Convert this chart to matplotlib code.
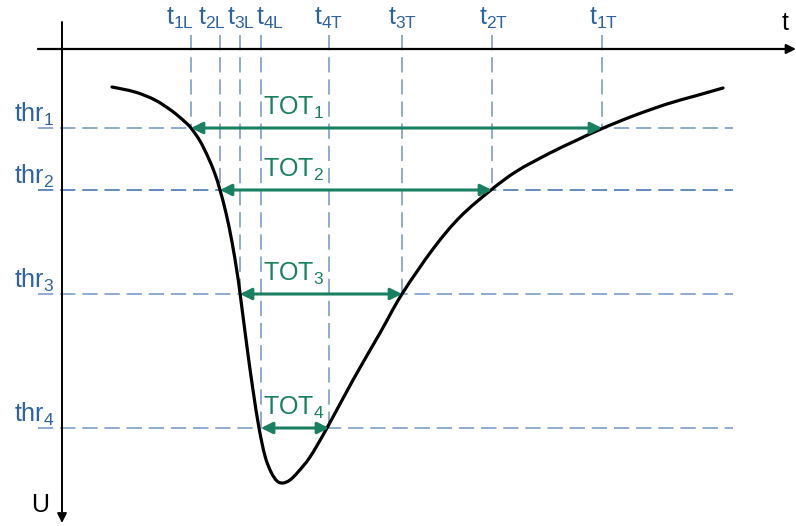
import matplotlib
matplotlib.use("Agg")
import matplotlib.pyplot as plt
import numpy as np
from matplotlib.path import Path
from matplotlib.patches import PathPatch

plt.rcParams['font.family'] = ['Liberation Sans', 'DejaVu Sans']
plt.rcParams['mathtext.fontset'] = 'custom'
plt.rcParams['mathtext.rm'] = 'Liberation Sans'
plt.rcParams['mathtext.it'] = 'Liberation Sans'
plt.rcParams['mathtext.bf'] = 'Liberation Sans'

# ---- data (drawing units: x = time, y = U, U grows downwards) ----
curve_t = [112, 135, 155, 172, 184, 191, 200, 208, 215, 220, 226, 232, 237, 240,
           247, 253, 259, 265, 271, 277, 283, 290, 298, 310, 327, 353, 380, 402,
           433, 460, 491, 517, 550, 575, 601, 633, 667, 695, 723]
curve_u = [87, 92, 100, 111, 121, 128, 141, 157, 174, 190, 213, 242, 272, 293,
           347, 390, 428, 456, 472, 481, 483, 480, 472, 457, 428, 380, 333, 294,
           249, 217, 190, 171, 153, 141, 129, 116, 104, 96, 88]

thresholds = [128, 190, 294, 428]
thr_labels = [r'thr$_{1}$', r'thr$_{2}$', r'thr$_{3}$', r'thr$_{4}$']
tot_labels = [r'TOT$_{1}$', r'TOT$_{2}$', r'TOT$_{3}$', r'TOT$_{4}$']
t_lead = [191, 220, 240, 261]
t_trail = [602, 492, 402, 329]
lead_labels = [r't$_{\mathrm{1L}}$', r't$_{\mathrm{2L}}$', r't$_{\mathrm{3L}}$', r't$_{\mathrm{4L}}$']
trail_labels = [r't$_{\mathrm{1T}}$', r't$_{\mathrm{2T}}$', r't$_{\mathrm{3T}}$', r't$_{\mathrm{4T}}$']
lead_label_x = [180, 212, 241, 270]
trail_label_x = [604, 494, 403, 329]

# ---- styles ----
BLUE_TXT = '#2E63A0'
BLUE_LINE = '#7094C4'
BLUE_DARK = '#3A68AE'
GREEN = '#1A8062'

fig = plt.figure(figsize=(7.96, 5.26), dpi=100)
ax = fig.add_axes([0, 0, 1, 1])
ax.set_xlim(0, 796)
ax.set_ylim(526, 0)
ax.axis('off')

# axes of the diagram
ax.annotate('', xy=(796, 49), xytext=(38, 49),
            arrowprops=dict(arrowstyle='-|>', color='black', lw=1.6,
                            mutation_scale=14, shrinkA=0, shrinkB=0))
ax.annotate('', xy=(62, 523), xytext=(62, 22),
            arrowprops=dict(arrowstyle='-|>', color='black', lw=1.4,
                            mutation_scale=14, shrinkA=0, shrinkB=0))
ax.text(785, 30, 't', fontsize=18, ha='center', va='baseline', color='black')
ax.text(40, 512, 'U', fontsize=18, ha='center', va='baseline', color='black')

# threshold dashed lines
for i, (thr, lab) in enumerate(zip(thresholds, thr_labels)):
    col = BLUE_DARK if i == 1 else BLUE_LINE
    ax.plot([38, 733], [thr, thr], color=col, lw=1.1, dashes=(10, 4.5), zorder=1)
    ax.text(14, thr - 6, lab, fontsize=18, color=BLUE_TXT, ha='left', va='baseline')

# vertical dashed lines and labels
for tl, tt, thr, ll, tlab, lx, tx in zip(t_lead, t_trail, thresholds, lead_labels,
                                         trail_labels, lead_label_x, trail_label_x):
    ax.plot([tl, tl], [35, thr], color=BLUE_LINE, lw=1.1, dashes=(10, 4.5), zorder=1)
    ax.plot([tt, tt], [35, thr], color=BLUE_LINE, lw=1.1, dashes=(10, 4.5), zorder=1)
    ax.text(lx, 25, ll, fontsize=18, color=BLUE_TXT, ha='center', va='baseline')
    ax.text(tx, 25, tlab, fontsize=18, color=BLUE_TXT, ha='center', va='baseline')

# curve drawn as a smooth Bezier path through the read points
P = np.column_stack([curve_t, curve_u]).astype(float)
verts = [P[0]]
codes = [Path.MOVETO]
n = len(P)
for i in range(n - 1):
    p0 = P[i - 1] if i > 0 else P[i]
    p1, p2 = P[i], P[i + 1]
    p3 = P[i + 2] if i + 2 < n else P[i + 1]
    c1 = p1 + (p2 - p0) / 6.0
    c2 = p2 - (p3 - p1) / 6.0
    verts += [c1, c2, p2]
    codes += [Path.CURVE4] * 3
ax.add_patch(PathPatch(Path(verts, codes), facecolor='none', edgecolor='black',
                       lw=2.3, capstyle='round', joinstyle='round', zorder=3))

# TOT arrows
for tl, tt, thr, lab in zip(t_lead, t_trail, thresholds, tot_labels):
    ax.annotate('', xy=(tt, thr), xytext=(tl, thr),
                arrowprops=dict(arrowstyle='<|-|>', color=GREEN, lw=2.2,
                                mutation_scale=17, shrinkA=0, shrinkB=0),
                zorder=4)
    ax.text(263, thr - 13, lab, fontsize=18, color=GREEN, ha='left', va='baseline')

fig.savefig('out.png', dpi=100)
